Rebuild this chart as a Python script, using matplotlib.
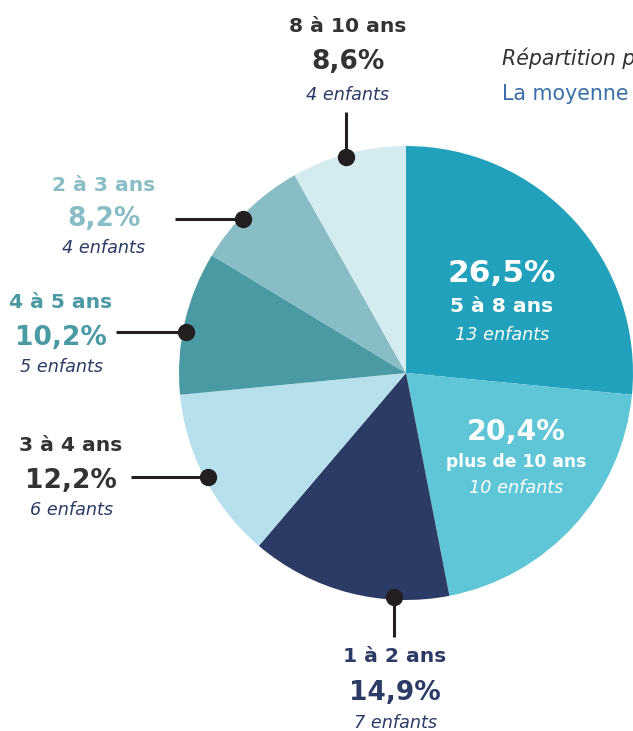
import matplotlib
matplotlib.use("Agg")
import matplotlib.pyplot as plt
import numpy as np

# ---- data ----
groups = ["5 à 8 ans", "plus de 10 ans", "1 à 2 ans", "3 à 4 ans", "4 à 5 ans", "2 à 3 ans", "8 à 10 ans"]
children = [13, 10, 7, 6, 5, 4, 4]
pct_labels = ["26,5%", "20,4%", "14,9%", "12,2%", "10,2%", "8,2%", "8,6%"]
count_labels = ["13 enfants", "10 enfants", "7 enfants", "6 enfants", "5 enfants", "4 enfants", "4 enfants"]
colors = ["#21a1bb", "#5ec6d7", "#2b3b65", "#b5e0ec", "#4a9aa4", "#88bdc6", "#d4ebf0"]
title_text = "Répartition par tranche d'âge des enfants"
subtitle_text = "La moyenne d'âge des enfants"

W, H = 633, 731
DPI = 100
fig = plt.figure(figsize=(W / DPI, H / DPI), dpi=DPI)
ax = fig.add_axes([0, 0, 1, 1])
ax.axis("off")

def Y(y):
    return H - y

CX, CY, R = 406, 373, 227
ax.pie(children, colors=colors, startangle=90, counterclock=False,
       center=(CX, Y(CY)), radius=R, wedgeprops=dict(linewidth=0))
ax.set_xlim(0, W)
ax.set_ylim(0, H)
ax.set_aspect("equal")

DARK = "#333333"
NAVY = "#2b3b65"
LBL_FS = 14.6
PCT_FS = 19
CNT_FS = 12.7

# inside labels: (index, x, baselines, pct size, label size)
inside = [
    (0, 502, (282, 312, 340), 22.5, 14.6),
    (1, 516, (440, 467, 493), 20.5, 12.3),
]
for i, x, (b1, b2, b3), pfs, lfs in inside:
    ax.text(x, Y(b1), pct_labels[i], ha="center", va="baseline", color="white",
            fontsize=pfs, fontweight="bold")
    ax.text(x, Y(b2), groups[i], ha="center", va="baseline", color="white",
            fontsize=lfs, fontweight="bold")
    ax.text(x, Y(b3), count_labels[i], ha="center", va="baseline", color="white",
            fontsize=CNT_FS, style="italic")

# outside labels: index, text center x, baselines, text color, leader (kind, coord, end)
outside = [
    (6, 348, (32, 69, 100), DARK, ("v", 346, 112)),
    (5, 104, (191, 226, 253), "#88bdc6", ("h", 219, 175)),
    (4, 61, (308, 345, 372), "#4a9aa4", ("h", 332, 116)),
    (3, 71, (451, 488, 515), DARK, ("h", 477, 131)),
    (2, 395, (662, 700, 728), NAVY, ("v", 394, 637)),
]
for i, x, (b1, b2, b3), col, (kind, c, end) in outside:
    ax.text(x, Y(b1), groups[i], ha="center", va="baseline", color=col,
            fontsize=LBL_FS, fontweight="bold")
    ax.text(x, Y(b2), pct_labels[i], ha="center", va="baseline", color=col,
            fontsize=PCT_FS, fontweight="bold")
    ax.text(x, Y(b3), count_labels[i], ha="center", va="baseline", color=NAVY,
            fontsize=CNT_FS, style="italic")
    rr = R - 3
    if kind == "h":
        dy = c - CY
        dx = -np.sqrt(rr ** 2 - dy ** 2)
        px, py = CX + dx, c
        ax.plot([end, px], [Y(c), Y(c)], color="#231f20", lw=2.2, solid_capstyle="butt", zorder=5)
    else:
        dx = c - CX
        sign = -1 if end < CY else 1
        dy = sign * np.sqrt(rr ** 2 - dx ** 2)
        px, py = c, CY + dy
        ax.plot([c, c], [Y(end), Y(py)], color="#231f20", lw=2.2, solid_capstyle="butt", zorder=5)
    ax.plot(px, Y(py), "o", color="#231f20", markersize=11.5, zorder=6)

# header texts run past the right edge, as in the reference
ax.text(502, Y(65), title_text, ha="left", va="baseline", color=DARK,
        fontsize=14.8, style="italic")
ax.text(502, Y(100), subtitle_text, ha="left", va="baseline", color="#3a6ea8",
        fontsize=14.8)

fig.savefig("out.png", dpi=DPI)
